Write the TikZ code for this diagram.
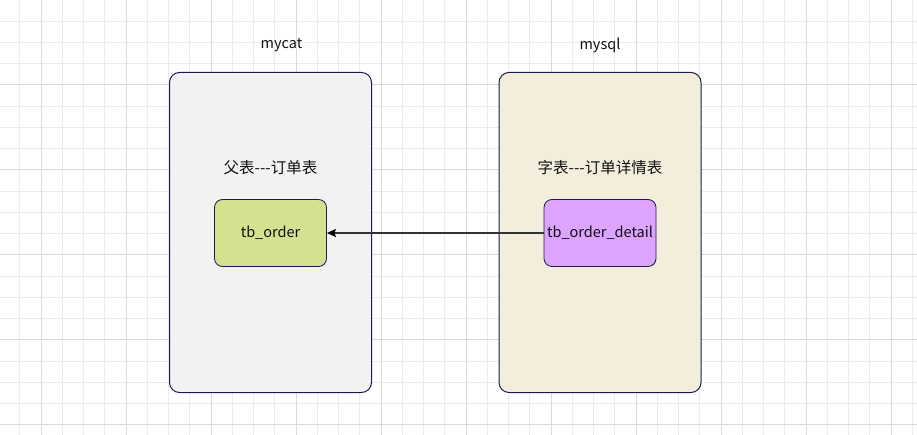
\documentclass[tikz,border=0pt]{standalone}
\usepackage{fontspec}
\setmainfont{Noto Sans CJK SC}[Ligatures=TeXOff]
\usepackage{tikz}
\usetikzlibrary{arrows.meta}
\definecolor{gminor}{HTML}{EBEBEB}
\definecolor{gmajor}{HTML}{DADADA}
\definecolor{edge}{HTML}{1A1A4D}
\definecolor{catfill}{HTML}{F2F2F2}
\definecolor{sqlfill}{HTML}{F3EDDC}
\definecolor{ordfill}{HTML}{D4E18E}
\definecolor{detfill}{HTML}{DCA3FF}
\definecolor{txt}{HTML}{111111}
\definecolor{link}{HTML}{333333}

\tikzset{
  dbbox/.style={draw=edge,line width=1pt,rounded corners=10pt,minimum width=202pt,minimum height=320pt,inner sep=0pt},
  tblbox/.style={draw=edge,line width=0.8pt,rounded corners=8pt,minimum width=112pt,minimum height=67pt,inner sep=0pt,text=txt,font=\fontsize{14.5}{17}\selectfont},
  lbl/.style={text=txt,inner sep=0pt,font=\fontsize{14.5}{17}\selectfont},
  cjklbl/.style={lbl,font=\fontsize{15.5}{18}\selectfont}
}

\begin{document}
\begin{tikzpicture}[x=1pt,y=-1pt]

\useasboundingbox (0,0) rectangle (917,435);
\fill[white] (0,0) rectangle (917,435);

% grid
\foreach \i in {-1,...,41} {
  \draw[gminor,line width=0.7pt] (41+21.25*\i,0) -- (41+21.25*\i,435);
}
\foreach \j in {0,...,20} {
  \draw[gminor,line width=0.7pt] (0,-0.3+21.25*\j) -- (917,-0.3+21.25*\j);
}
\foreach \i in {0,...,10} {
  \draw[gmajor,line width=0.8pt] (41+85*\i,0) -- (41+85*\i,435);
}
\foreach \j in {0,...,5} {
  \draw[gmajor,line width=0.8pt] (0,-0.3+85*\j) -- (917,-0.3+85*\j);
}

% databases
\node[dbbox,fill=catfill] (mycat) at (270.5,232.5) {};
\node[dbbox,fill=sqlfill] (mysql) at (600,232.5) {};

\node[lbl] (mycatlbl) at (281.5,45) {mycat};
\node[lbl] (mysqllbl) at (600,45) {mysql};

\node[cjklbl] (parentlbl) at (270.5,168) {父表---订单表};
\node[cjklbl] (childlbl) at (600,168) {字表---订单详情表};

% tables
\node[tblbox,fill=ordfill] (order) at (270.5,233) {tb\_order};
\node[tblbox,fill=detfill] (detail) at (600,233) {tb\_order\_detail};

\draw[link,line width=1.4pt,-{Stealth[length=9pt,width=8pt,inset=1.5pt,black]}] (detail.west) -- (order.east);

\end{tikzpicture}
\end{document}
